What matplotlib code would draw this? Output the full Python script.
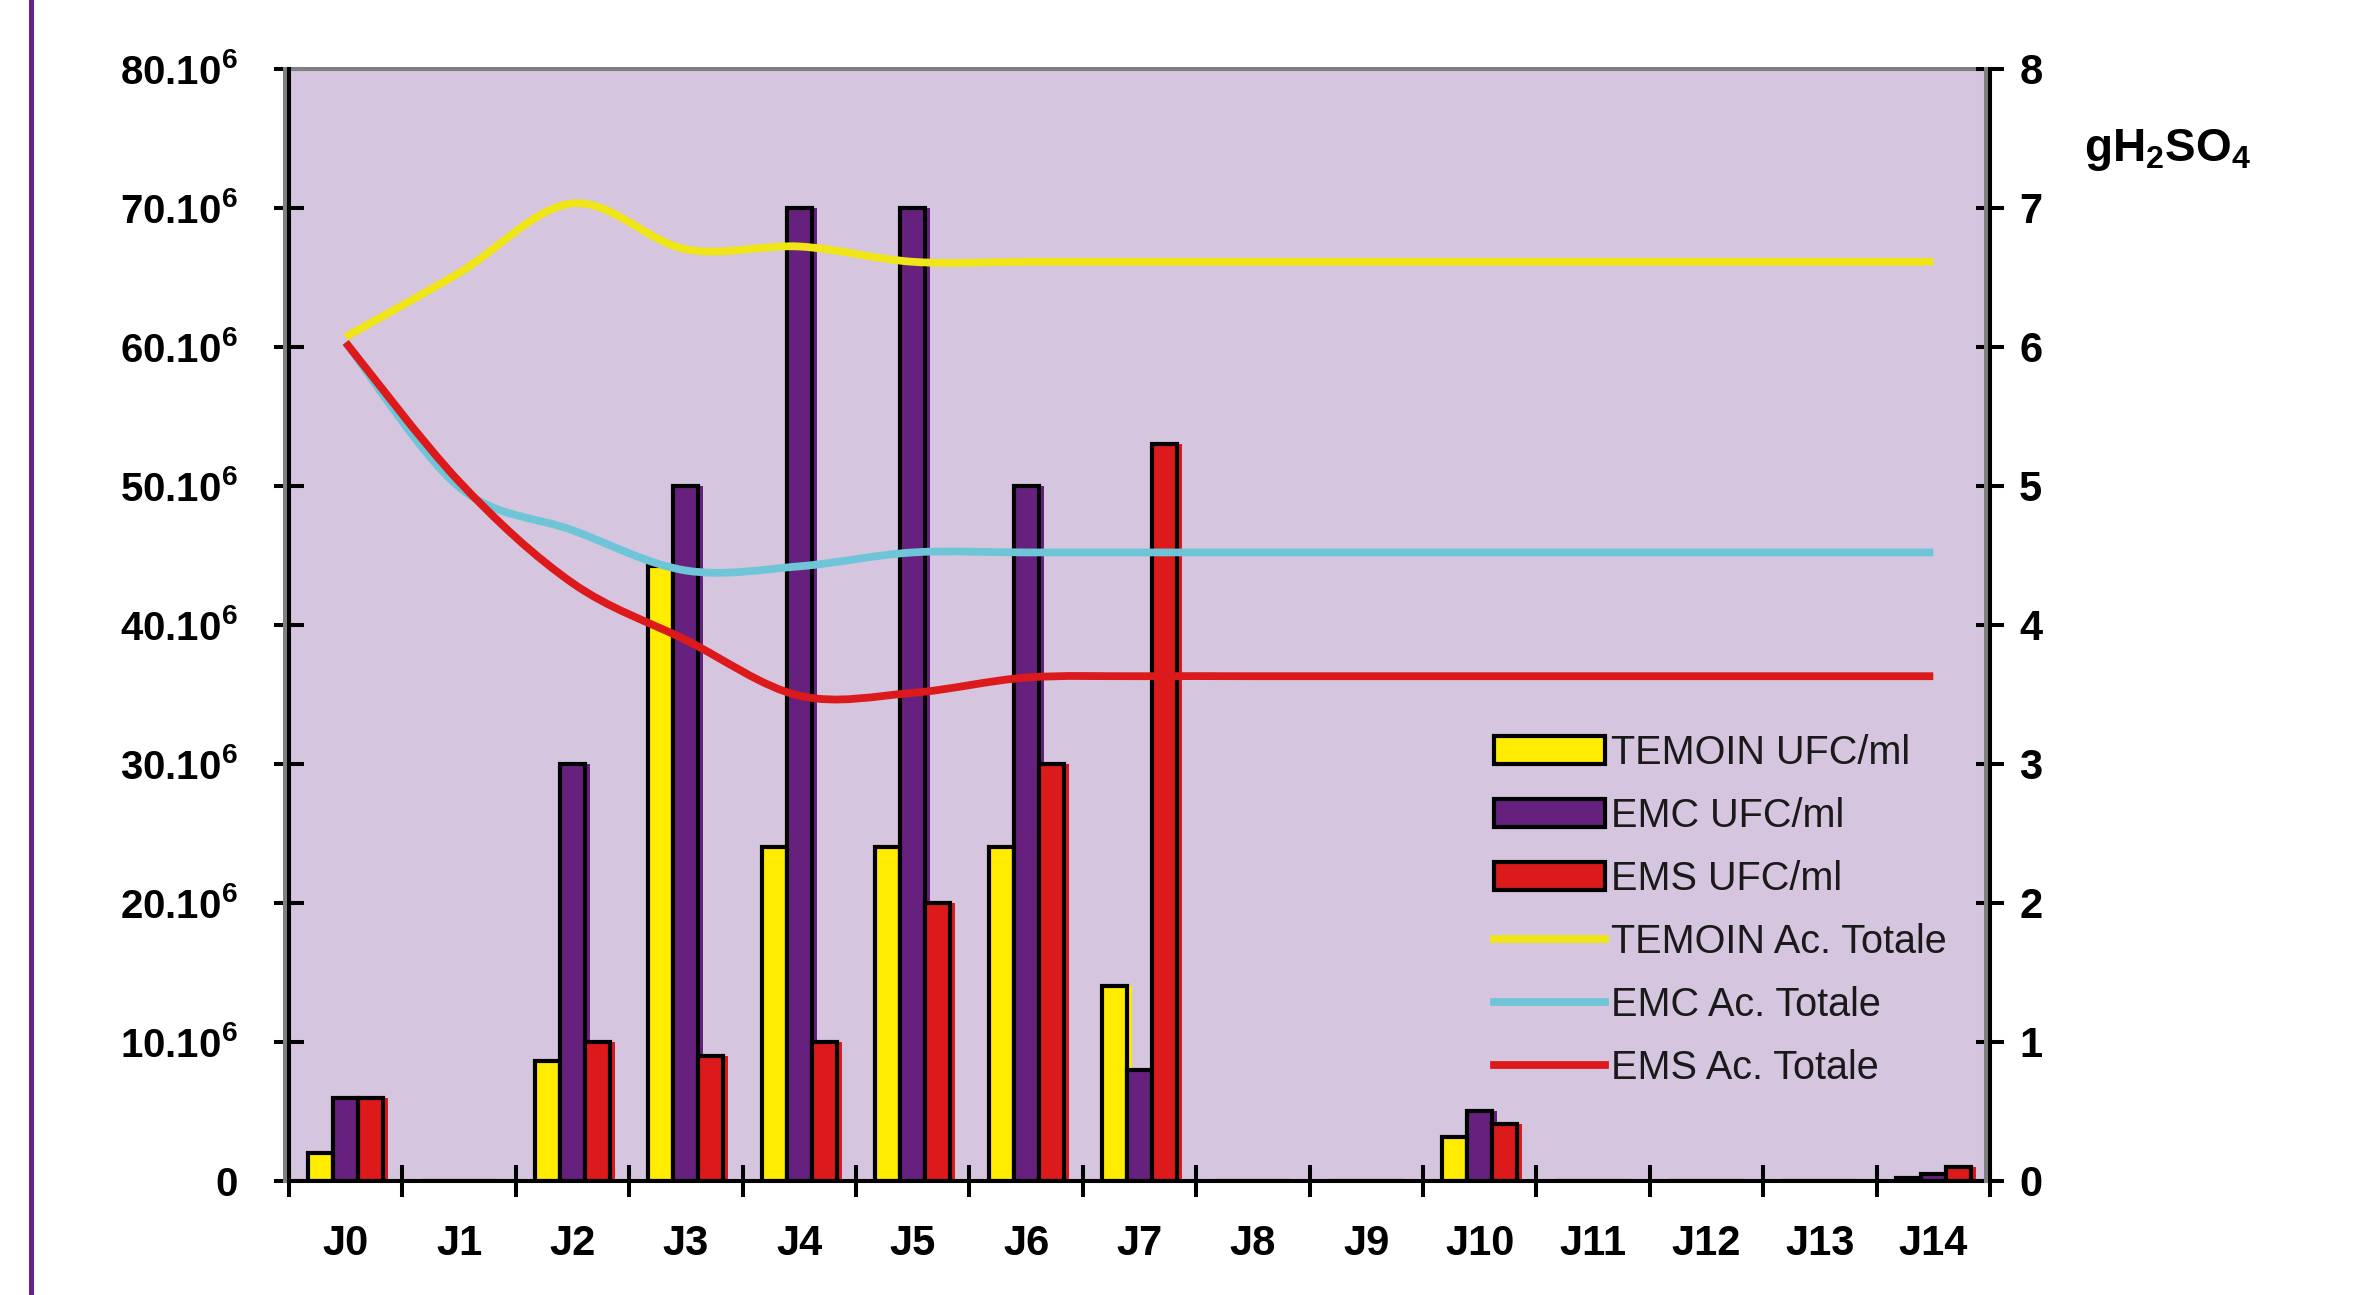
import numpy as np
import matplotlib
matplotlib.use("Agg")
import matplotlib.pyplot as plt
from matplotlib.path import Path
from matplotlib.patches import PathPatch, Patch
from matplotlib.lines import Line2D
import matplotlib.transforms as mtransforms

plt.rcParams['font.family'] = ['Liberation Sans', 'DejaVu Sans']
plt.rcParams['mathtext.fontset'] = 'custom'
plt.rcParams['mathtext.default'] = 'regular'

# ---------------- data ----------------
days = ["J0", "J1", "J2", "J3", "J4", "J5", "J6", "J7", "J8", "J9",
        "J10", "J11", "J12", "J13", "J14"]

# UFC/ml (x 10^6), left axis
temoin_ufc = [2, 0, 8.6, 44.2, 24, 24, 24, 14, 0, 0, 3.2, 0, 0, 0, 0.2]
emc_ufc = [6, 0, 30, 50, 70, 70, 50, 8, 0, 0, 5, 0, 0, 0, 0.5]
ems_ufc = [6, 0, 10, 9, 10, 20, 30, 53, 0, 0, 4.1, 0, 0, 0, 1.0]

# Acidité totale (g H2SO4), right axis
temoin_ac = [6.07, 6.53, 7.03, 6.70, 6.72, 6.61, 6.61, 6.61, 6.61, 6.61,
             6.61, 6.61, 6.61, 6.61, 6.61]
emc_ac = [6.03, 4.99, 4.68, 4.39, 4.42, 4.52, 4.52, 4.52, 4.52, 4.52,
          4.52, 4.52, 4.52, 4.52, 4.52]
ems_ac = [6.03, 5.03, 4.30, 3.89, 3.49, 3.51, 3.62, 3.63, 3.63, 3.63,
          3.63, 3.63, 3.63, 3.63, 3.63]

left_ticks = [0, 10, 20, 30, 40, 50, 60, 70, 80]
left_labels = ["0"] + [f"{v}.10$^{{6}}$" for v in left_ticks[1:]]
right_ticks = [0, 1, 2, 3, 4, 5, 6, 7, 8]

bar_series = [("TEMOIN UFC/ml", temoin_ufc, "#ffec00"),
              ("EMC UFC/ml", emc_ufc, "#66217e"),
              ("EMS UFC/ml", ems_ufc, "#dc1a1c")]
line_series = [("TEMOIN Ac. Totale", temoin_ac, "#f0e516"),
               ("EMC Ac. Totale", emc_ac, "#6fc5d8"),
               ("EMS Ac. Totale", ems_ac, "#dc1a1c")]

# ---------------- figure ----------------
W, H = 2378, 1295
fig = plt.figure(figsize=(W / 100, H / 100), dpi=100)
fig.patch.set_facecolor("white")

L, R, T, B = 289, 1990, 68.5, 1181
ax = fig.add_axes([L / W, (H - B) / H, (R - L) / W, (B - T) / H])
ax2 = ax.twinx()
ax.set_facecolor("#d5c5de")

x = np.arange(len(days))
bw = 0.22
offsets = [-bw, 0, bw]
shadow = 5 / ((R - L) / len(days))

for (lab, vals, col), off in zip(bar_series, offsets):
    ax.bar(x + off + shadow, vals, width=bw, color=col, edgecolor="none",
           zorder=1.9)
for (lab, vals, col), off in zip(bar_series, offsets):
    ax.bar(x + off, vals, width=bw, color=col, edgecolor="black",
           linewidth=3.0, zorder=2)


def smooth_path(xs, ys):
    P = np.column_stack([xs, ys]).astype(float)
    n = len(P)
    verts = [P[0]]
    codes = [Path.MOVETO]
    for i in range(n - 1):
        p0 = P[i - 1] if i > 0 else P[i]
        p1 = P[i]
        p2 = P[i + 1]
        p3 = P[i + 2] if i + 2 < n else P[i + 1]
        c1 = p1 + (p2 - p0) / 6.0
        c2 = p2 - (p3 - p1) / 6.0
        verts += [c1, c2, p2]
        codes += [Path.CURVE4] * 3
    return Path(verts, codes)


lw_line = 5.6
for lab, vals, col in line_series:
    pp = PathPatch(smooth_path(x, vals), facecolor="none", edgecolor=col,
                   linewidth=lw_line, capstyle="butt", joinstyle="round",
                   zorder=3)
    ax2.add_patch(pp)

ax.set_xlim(-0.5, len(days) - 0.5)
ax.set_ylim(0, 80)
ax2.set_ylim(0, 8)

# ticks
ax.set_xticks(x)
ax.set_xticklabels(days, fontsize=30, fontweight="bold")
ax.set_xticks(np.arange(len(days) + 1) - 0.5, minor=True)
ax.tick_params(axis="x", which="major", length=0, pad=31)
ax.tick_params(axis="x", which="minor", direction="inout", length=23,
               width=2.9, color="black")
ax.set_yticks(left_ticks)
ax.set_yticklabels(left_labels, fontsize=29, fontweight="bold")
ax.tick_params(axis="y", direction="inout", length=22, width=2.9, pad=26)
ax2.set_yticks(right_ticks)
ax2.set_yticklabels([str(v) for v in right_ticks], fontsize=30,
                    fontweight="bold")
ax2.tick_params(axis="y", direction="inout", length=20, width=2.9, pad=11)

# spines
for a in (ax, ax2):
    for s in a.spines.values():
        s.set_linewidth(2.9)
        s.set_color("black")
    a.spines["top"].set_color("#808080")
ax2.spines["top"].set_visible(False)

# grey frame lines (3D border) just inside / outside black axes
grey_l = Line2D([0, 0], [0, 1], color="#808080", lw=2.9,
                transform=ax.transAxes + mtransforms.ScaledTranslation(
                    -4 / 100, 0, fig.dpi_scale_trans), zorder=5, clip_on=False)
grey_r = Line2D([1, 1], [0, 1], color="#808080", lw=2.9,
                transform=ax.transAxes + mtransforms.ScaledTranslation(
                    -4 / 100, 0, fig.dpi_scale_trans), zorder=5, clip_on=False)
ax2.add_line(grey_l)
ax2.add_line(grey_r)

# right axis unit label
fig.text(2168 / W, 1 - 150 / H, "gH$_{2}$SO$_{4}$", fontsize=33,
         fontweight="bold", ha="center", va="center")

# left purple border line
fig.add_artist(Line2D([31 / W, 31 / W], [0, 1], color="#6b2087", lw=3.6))

# legend
handles = [Patch(facecolor=c, edgecolor="black", linewidth=3.0)
           for _, _, c in bar_series]
handles += [Line2D([], [], color=c, lw=lw_line) for _, _, c in line_series]
labels = [s[0] for s in bar_series] + [s[0] for s in line_series]
leg = ax2.legend(handles, labels, loc="upper left",
                 bbox_to_anchor=(1494 / W, 1 - 734 / H),
                 bbox_transform=fig.transFigure, frameon=False,
                 fontsize=28.5, borderpad=0, handlelength=2.8,
                 handleheight=0.72, handletextpad=0.15, labelspacing=0.63,
                 borderaxespad=0)
for t in leg.get_texts():
    t.set_color("#1a1a1a")

fig.savefig("out.png", dpi=100)
